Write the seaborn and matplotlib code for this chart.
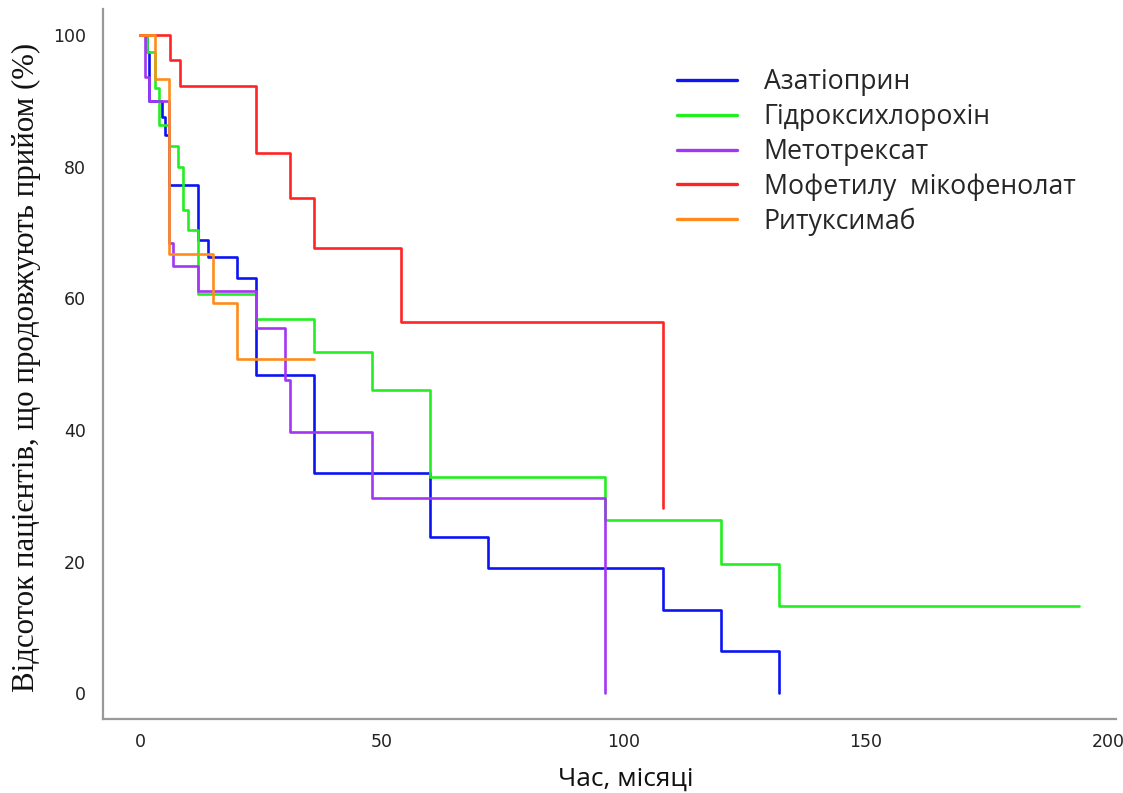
import matplotlib
matplotlib.use("Agg")
import matplotlib.pyplot as plt
import seaborn as sns
import pandas as pd

# Kaplan-Meier style retention curves: time (months) and % of patients still on treatment
drugs = ["Азатіоприн", "Гідроксихлорохін", "Метотрексат", "Мофетилу  мікофенолат", "Ритуксимаб"]

aza_t = [0, 1.4, 1.9, 4.5, 5.2, 6.0, 12, 14, 20, 24, 36, 60, 72, 108, 120, 132]
aza_s = [100, 97.4, 90.0, 87.6, 84.8, 77.2, 68.8, 66.2, 63.1, 48.3, 33.4, 23.8, 19.1, 12.7, 6.4, 0]

hcq_t = [0, 1.4, 3.1, 4.0, 6.0, 7.9, 8.9, 10.0, 12, 24, 36, 48, 60, 96, 120, 132, 194]
hcq_s = [100, 97.4, 92.0, 86.3, 83.1, 79.9, 73.4, 70.4, 60.7, 56.9, 51.8, 46.1, 32.9, 26.3, 19.7, 13.2, 13.2]

mtx_t = [0, 1.0, 1.9, 6.0, 6.9, 12, 24, 30, 31, 48, 96]
mtx_s = [100, 93.6, 90.0, 68.4, 64.9, 61.1, 55.5, 47.6, 39.7, 29.7, 0]

mmf_t = [0, 6.2, 8.3, 24, 31, 36, 54, 108]
mmf_s = [100, 96.2, 92.3, 82.1, 75.2, 67.7, 56.4, 28.2]

rtx_t = [0, 3.1, 6.0, 15, 20, 36]
rtx_s = [100, 93.3, 66.7, 59.3, 50.8, 50.8]

colors = ["#0d14f2", "#22ee22", "#a336f2", "#ff2424", "#ff8c1a"]

series = [(aza_t, aza_s), (hcq_t, hcq_s), (mtx_t, mtx_s), (mmf_t, mmf_s), (rtx_t, rtx_s)]
frames = []
for name, (t, s) in zip(drugs, series):
    frames.append(pd.DataFrame({"drug": name, "time": t, "pct": s}))
df = pd.concat(frames, ignore_index=True)

sns.set_theme(style="white")
plt.rcParams["font.family"] = ["DejaVu Sans"]

fig = plt.figure(figsize=(11.23, 7.93), dpi=100)
ax = fig.add_axes([0.09145, 0.0929, 0.90232, 0.89537])

sns.lineplot(data=df, x="time", y="pct", hue="drug", hue_order=drugs,
             palette=dict(zip(drugs, colors)), estimator=None, sort=False,
             drawstyle="steps-post", linewidth=1.9, ax=ax)

ax.set_xlim(-7.7, 201.7)
ax.set_ylim(-3.95, 103.9)
ax.set_xticks([0, 50, 100, 150, 200])
ax.set_yticks([0, 20, 40, 60, 80, 100])

for side in ["top", "right"]:
    ax.spines[side].set_visible(False)
for side in ["left", "bottom"]:
    ax.spines[side].set_color("#999999")
    ax.spines[side].set_linewidth(1.6)
ax.tick_params(axis="both", which="major", direction="out", length=6, width=1.4,
               color="#888888", labelcolor="#222222", labelsize=12.5)
ax.tick_params(axis="y", pad=6)
ax.tick_params(axis="x", pad=4)

ax.set_xlabel("")
ax.set_ylabel("")
fig.text(626 / 1123, 1 - 779 / 793, "Час, місяці", family=["Open Sans", "DejaVu Sans"],
         fontsize=19, ha="center", va="center", color="#111111")
fig.text(26 / 1123, 1 - 367 / 793, "Відсоток пацієнтів, що продовжують прийом (%)",
         family=["Liberation Serif", "DejaVu Serif"], fontsize=22.2, rotation=90,
         ha="center", va="center", color="#111111")

handles, labels = ax.get_legend_handles_labels()
for h in handles:
    h.set_linewidth(2.4)
ax.legend(handles, labels, frameon=False, loc="upper left",
          bbox_to_anchor=(0.5668, 0.917), borderpad=0, borderaxespad=0,
          handlelength=2.25, handletextpad=1.0, labelspacing=0.255,
          prop={"family": ["Open Sans", "DejaVu Sans"], "size": 19.2})

fig.savefig("out.png", dpi=100)
